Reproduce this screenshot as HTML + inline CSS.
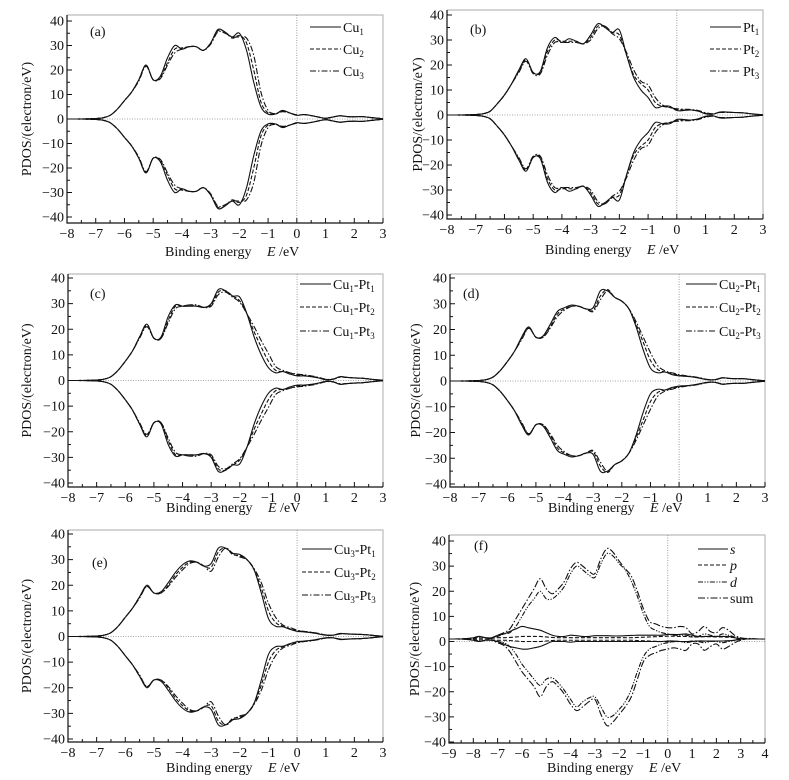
<!DOCTYPE html>
<html><head><meta charset="utf-8">
<style>
html,body{margin:0;padding:0;background:#fff;}
svg{display:block;font-family:"Liberation Serif",serif;}
</style></head>
<body>
<svg id="fig" width="789" height="780" viewBox="0 0 789 780" xmlns="http://www.w3.org/2000/svg"></svg>
<script>
// ---------- data ----------
const E_GRID = [-8,-7.75,-7.5,-7.25,-7,-6.75,-6.5,-6.25,-6,-5.75,-5.5,-5.25,-5,-4.75,-4.5,-4.25,-4,-3.75,-3.5,-3.25,-3,-2.75,-2.5,-2.25,-2,-1.75,-1.5,-1.25,-1,-0.75,-0.5,-0.25,0,0.25,0.5,0.75,1,1.25,1.5,1.75,2,2.25,2.5,2.75,3];
const A_CU1 = [0,0,0,0.1,0.2,0.5,1.5,4,7.5,11, 16,22,16,17.5,25,30,28.5,29.5,29.5,28,31,36.5,35.5,33.5,35,28,15,5,2,2,3.5,2.5,1.5,1.8,1.4,0.8,0.3,0.8,1.3,1,0.9,1,0.7,0.4,0.1];
const A_CU2 = [0,0,0,0.1,0.2,0.5,1.5,4,7.5,11, 16,22,16,17,23,28.5,29,29.5,29.5,28,31,36,35.5,33,34,31,20,7,2.5,2,3.3,2.5,1.6,1.8,1.4,0.8,0.3,0.8,1.3,1,0.9,1,0.7,0.4,0.1];
const A_CU3 = [0,0,0,0.1,0.2,0.5,1.5,4,7.5,11, 15.5,21.5,16,16.5,22,27,28.5,29.5,29.5,28,30.5,35.5,35,33.5,33.5,33,26,11,3.5,2.2,3,2.5,1.7,1.8,1.4,0.8,0.3,0.8,1.3,1,0.9,1,0.7,0.4,0.1];
const B_PT1 = [0,0,0,0.1,0.2,0.5,1.5,4.5,8,12.5, 18,22.5,17,17.5,27,31,29,30.5,29.5,28.5,32,36.5,35,33,34,24,15,10,7,3,3.5,3.5,1.8,1.8,2,1.5,0.5,0.3,1.2,1.2,1,0.9,0.6,0.3,0.1];
const B_PT2 = [0,0,0,0.1,0.2,0.5,1.5,4.5,8,12.5, 17.5,22,17,17,25.5,30,29.5,29.5,29.5,28.5,31,35.5,35.5,33,32,24,16,12.5,10,5,3.5,3,2.2,2,2,1.6,0.7,0.4,1.1,1.1,1,0.9,0.6,0.3,0.1];
const B_PT3 = [0,0,0,0.1,0.2,0.5,1.5,4.5,8,12.5, 17,21.5,16.5,16.5,24,29,29,29,29,28.5,30,34.5,35.5,32.5,30.5,25,18,13.5,12,7,4,3,2.5,2.3,2.2,1.8,0.9,0.5,1,1,1,0.9,0.6,0.3,0.1];
const C_S1 = [0,0,0,0.1,0.2,0.5,1.5,4,7.5,11.5, 17,22,16.5,17,25,29.5,29,29,29,28.5,30,35.5,35,33,32.5,26,17,10,5,3,3.5,2.5,1.8,1.8,1.5,1,0.3,0.5,1.5,1.2,1,0.9,0.6,0.3,0.1];
const C_S2 = [0,0,0,0.1,0.2,0.5,1.5,4,7.5,11.5, 17,21.5,16.5,16.5,23.5,29,29,29.5,29,28.5,29.5,34.5,35,33,31,26,19,13,7.5,4,3.5,3,2.2,2,1.6,1.1,0.4,0.5,1.4,1.2,1,0.9,0.6,0.3,0.1];
const C_S3 = [0,0,0,0.1,0.2,0.5,1.5,4,7.5,11.5, 16.5,21,16.5,16.5,22.5,28,29,29.5,29.5,28.5,29,33.5,34.5,32.5,30.5,26,21,15.5,10.5,5.5,4,3,2.5,2.2,1.8,1.2,0.5,0.5,1.3,1.2,1,0.9,0.6,0.3,0.1];
const D_S1 = [0,0,0,0.1,0.2,0.5,1.5,4,7.5,11.5, 17,21,17,17.5,22,27,28.5,29.5,29,28,28.5,35,35,32.5,31,28,21,12,5,3.2,3.5,2.5,2,1.8,1.5,1,0.5,0.5,1.3,1,0.9,0.9,0.6,0.3,0.1];
const D_S2 = [0,0,0,0.1,0.2,0.5,1.5,4,7.5,11.5, 16.5,20.5,17,17,21,26,28,29,29,28,27.5,33,35.5,32.5,31,28,22,15,8,4.5,3.5,3,2.2,1.9,1.6,1.1,0.5,0.5,1.2,1,0.9,0.9,0.6,0.3,0.1];
const D_S3 = [0,0,0,0.1,0.2,0.5,1.5,4,7.5,11.5, 16,20.5,17,17,20.5,25,27.5,29,29,28,27,31.5,35,32.5,31,28,23,17,11,6,4,3.2,2.5,2,1.7,1.2,0.6,0.5,1.1,1,0.9,0.9,0.6,0.3,0.1];
const E_S1 = [0,0,0,0.1,0.2,0.5,1.5,4,7.5,11, 15.5,20,17,17.5,21,25,28,29.5,29,27.5,28.5,34.5,34.5,32.5,32,30,26,17,7,4,3.8,2.8,2,1.8,1.5,1,0.5,0.5,1.2,1,0.9,0.8,0.6,0.3,0.1];
const E_S2 = [0,0,0,0.1,0.2,0.5,1.5,4,7.5,11, 15.5,19.5,17,17,20,24,27,29,29,27.5,27,33,34.5,32,31.5,30,26,19,10,5.5,4,3,2.3,1.9,1.6,1.1,0.6,0.5,1.1,1,0.9,0.8,0.6,0.3,0.1];
const E_S3 = [0,0,0,0.1,0.2,0.5,1.5,4,7.5,11, 15,19.5,17,17,19.5,23,26,28.5,29,27.5,25.5,31,34.5,32.5,31,30,26.5,21,13,7.5,4.5,3.5,2.5,2,1.7,1.2,0.6,0.5,1,1,0.9,0.8,0.6,0.3,0.1];

const F_GRID = [-9,-8.75,-8.5,-8.25,-8,-7.75,-7.5,-7.25,-7,-6.75,-6.5,-6.25,-6,-5.75,-5.5,-5.25,-5,-4.75,-4.5,-4.25,-4,-3.75,-3.5,-3.25,-3,-2.75,-2.5,-2.25,-2,-1.75,-1.5,-1.25,-1,-0.75,-0.5,-0.25,0,0.25,0.5,0.75,1,1.25,1.5,1.75,2,2.25,2.5,2.75,3,3.25,3.5,3.75,4];
const F_SUM_UP = [1,1,1,1.2,1.5,2,1.5,1.2,2.5,3.5, 5,9,13,17,21,25,21,19,21,24, 29,31.5,30,28,27,33,37,35.5,32,29, 26,20,13,8,7,6,5.5,5.5,6,5.5, 3,4,6,4,3.5,5.5,4.5,2.5,1.5,1.2, 1.2,1,1];
const F_D_UP = [1,1,1,1.1,1.3,1.8,1.4,1.2,2,3, 3.5,6,10,14,17,20,17,17,19,22, 27,30,28.5,26.5,25.5,31,35,34,31,28.5, 24,18,11,6,4.5,3.5,3,2.5,2.5,2.5, 2,2,3,2.5,2,3,2.5,1.8,1.2,1.1, 1,1,1];
const F_SUM_DN = [1,1,1,0.8,0.5,0,0.5,0.5,-0.5,-1.5, -4,-8,-12,-15,-18,-22,-18,-16,-18,-21, -25,-27.5,-26,-24,-23,-29,-33.5,-32,-29,-26, -22,-15,-8,-5.5,-4.5,-3.5,-3,-2.5,-3,-3.5, -1,-1,-3.5,-2,-1,-3,-2,-0.5,0.5,1, 1,1,1];
const F_D_DN = [1,1,1,0.9,0.7,0.3,0.6,0.6,0,-0.5, -2,-5,-9,-12,-15,-17.5,-15,-14.5,-16.5,-19.5, -23,-26,-24,-22.5,-22,-26,-30,-29.5,-27,-24, -19,-12,-6,-3,-2,-1,-0.5,0,0,-0.5, 0,0,-0.5,0,0,-0.5,0,0.5,1,1, 1,1,1];
const F_S_UP = [1,1,1,1.2,1.5,2,1.5,1.5,2.5,3, 4,5,6,5.5,5,4.5,3.5,2.5,2,2, 2.5,2.3,2,2,2.3,2.3,2.3,2.2,2.2,2.3, 2.4,2.5,2.5,2.5,2.5,2.5,2.8,2.8,2.8,3, 2.5,2,2,2,2,2,2,1.5,1,1, 1,1,1];
const F_S_DN = [1,1,1,0.8,0.5,0,0.5,0.5,0,-1, -2,-2.5,-3,-3,-2.5,-2,-1,0,0,0, -0.3,0,0,0,0,0,0,0,0,0, 0,0,0,0,0,0,0.2,0.2,0,0, 0,0.2,0.2,0.2,0.2,0.2,0.3,0.5,1,1, 1,1,1];
const F_P_UP = [1,1,1,1,1.2,1.3,1.3,1.3,1.5,1.5, 1.6,1.8,2,2,2,2,1.8,1.6,1.5,1.5, 1.5,1.5,1.5,1.5,1.5,1.5,1.5,1.5,1.5,1.5, 1.5,1.6,1.7,1.8,1.9,2,2.1,2.1,2,2, 1.8,1.8,1.9,1.9,1.8,1.8,1.7,1.5,1.2,1, 1,1,1];
const F_P_DN = [1,1,1,1,0.8,0.7,0.7,0.7,0.5,0.5, 0.4,0.2,0,0,0,0,0.2,0.4,0.5,0.5, 0.5,0.5,0.5,0.5,0.5,0.5,0.5,0.5,0.5,0.5, 0.5,0.4,0.3,0.2,0.1,0,-0.1,-0.1,0,0, 0.2,0.2,0.1,0.1,0.2,0.2,0.3,0.5,0.8,1, 1,1,1];

const Y_TICKS = [40,30,20,10,0,-10,-20,-30,-40];
const X_TICKS_A = [-8,-7,-6,-5,-4,-3,-2,-1,0,1,2,3];
const X_TICKS_F = [-9,-8,-7,-6,-5,-4,-3,-2,-1,0,1,2,3,4];

// ---------- drawing ----------
const NS = 'http://www.w3.org/2000/svg';
const svg = document.getElementById('fig');
function mk(tag, attrs, parent){ const e=document.createElementNS(NS,tag); for(const k in attrs) e.setAttribute(k,attrs[k]); (parent||svg).appendChild(e); return e; }

const DASH = {solid:'', dash:'4,2', dashdot:'6,2,1.5,2', dashdotdot:'5,1.5,1.2,1.5,1.2,1.5', longdd:'7,2,1.5,2'};

function smoothPath(pts){
  let d='M'+pts[0][0].toFixed(2)+','+pts[0][1].toFixed(2);
  for(let i=0;i<pts.length-1;i++){
    const p0=pts[i-1]||pts[i], p1=pts[i], p2=pts[i+1], p3=pts[i+2]||p2;
    const c1x=p1[0]+(p2[0]-p0[0])/6, c1y=p1[1]+(p2[1]-p0[1])/6;
    const c2x=p2[0]-(p3[0]-p1[0])/6, c2y=p2[1]-(p3[1]-p1[1])/6;
    d+='C'+c1x.toFixed(2)+','+c1y.toFixed(2)+' '+c2x.toFixed(2)+','+c2y.toFixed(2)+' '+p2[0].toFixed(2)+','+p2[1].toFixed(2);
  }
  return d;
}

function panel(cfg){
  const g = mk('g',{});
  
  
  const xs = v => cfg.L + (v-cfg.xmin)/(cfg.xmax-cfg.xmin)*(cfg.R-cfg.L);
  const ys = v => cfg.y40 + (40-v)/80*(cfg.ym40-cfg.y40);
  const top=cfg.top, bot=cfg.bot;
  // frame
  const fr = mk('path',{d:`M${cfg.L},${top}H${cfg.R}V${bot}`,fill:'none',stroke:'#bbb','stroke-width':1.2},g);
   
  // zero lines
  const z1 = mk('line',{x1:cfg.L,x2:cfg.R,y1:ys(0),y2:ys(0),stroke:'#888','stroke-width':0.8,'stroke-dasharray':'1,1.5'},g);
   
  const z2 = mk('line',{x1:xs(0),x2:xs(0),y1:top,y2:bot,stroke:'#888','stroke-width':0.8,'stroke-dasharray':'1,1.5'},g);
   
  // axes
  const ax = mk('path',{d:`M${cfg.L},${top}V${bot}H${cfg.R}`,fill:'none',stroke:'#111','stroke-width':1.2},g);
   
  // y ticks
  for(let v=-40; v<=40; v+=5){
    const t=mk('line',{x1:cfg.L,x2:cfg.L+(v%10===0?5:3),y1:ys(v),y2:ys(v),stroke:'#111','stroke-width':1},g);
     
  }
  Y_TICKS.forEach(v=>{
    const t=mk('text',{x:cfg.L-3,y:ys(v)+4.5,'text-anchor':'end','font-size':14,fill:'#111'},g);
    t.textContent = v<0 ? '\u2212'+(-v) : String(v);
     
  });
  // x ticks
  for(let v=cfg.xmin; v<=cfg.xmax+1e-9; v+=0.5){
    const maj = Math.abs(v-Math.round(v))<1e-6;
    const t=mk('line',{x1:xs(v),x2:xs(v),y1:bot,y2:bot-(maj?5:3),stroke:'#111','stroke-width':1},g);
     
  }
  cfg.xticks.forEach(v=>{
    const t=mk('text',{x:xs(v),y:bot+15,'text-anchor':'middle','font-size':14,fill:'#111'},g);
    t.textContent = v<0 ? '\u2212'+(-v) : String(v);
     
  });
  // titles
  const yt=mk('text',{x:0,y:0,'font-size':14,fill:'#111','text-anchor':'middle',transform:`translate(${cfg.ytx},${(top+bot)/2}) rotate(-90)`},g);
  yt.textContent='PDOS/(electron/eV)';
   
  const xt=mk('text',{x:cfg.L+98,y:cfg.xty,'font-size':14,fill:'#111'},g);
   
  xt.innerHTML='Binding energy<tspan x="'+(cfg.L+200)+'" font-style="italic">E</tspan><tspan> /eV</tspan>';
  const pl=mk('text',{x:cfg.lx,y:cfg.ly,'font-size':14,fill:'#111'},g);
  pl.textContent='('+cfg.id+')';
   
  // series
  cfg.series.forEach((s,i)=>{
    const parts = s.down ? [s.up, s.down] : [s.up, s.up.map(v=>-v)];
    parts.forEach((arr,k)=>{
      const pts = s.x.map((e,j)=>[xs(e), ys(arr[j])]);
      const p=mk('path',{d:smoothPath(pts),fill:'none',stroke:'#111','stroke-width':1.1,'stroke-dasharray':DASH[s.style]},g);
      
      
    });
    // legend
    const ly = cfg.legY[i];
    const ll=mk('line',{x1:cfg.legX,x2:cfg.legX+cfg.legW,y1:ly,y2:ly,stroke:'#111','stroke-width':1.1,'stroke-dasharray':DASH[s.style]},g);
     
    const lt=mk('text',{x:cfg.legX+cfg.legW+2,y:ly+5,'font-size':14,fill:'#111'},g);
    lt.innerHTML = s.label;
     
  });
}
const sub = (a,n)=>a+'<tspan font-size="9" dy="3">'+n+'</tspan>';
const sub2 = (a,n,b,m)=>a+'<tspan font-size="9" dy="3">'+n+'</tspan><tspan dy="-3">-'+b+'</tspan><tspan font-size="9" dy="3">'+m+'</tspan>';
const it = t=>'<tspan font-style="italic">'+t+'</tspan>';

panel({id:'a',L:67,R:383,xmin:-8,xmax:3,y40:21,ym40:217,top:15,bot:223,xticks:X_TICKS_A,ytx:31,xty:256,lx:90,ly:36,
  legX:310,legW:31,legY:[27,49,71],
  series:[{key:'cu1',x:E_GRID,up:A_CU1,style:'solid',label:sub('Cu',1)},
          {key:'cu2',x:E_GRID,up:A_CU2,style:'dash',label:sub('Cu',2)},
          {key:'cu3',x:E_GRID,up:A_CU3,style:'dashdot',label:sub('Cu',3)}]});
panel({id:'b',L:447,R:763,xmin:-8,xmax:3,y40:15,ym40:215,top:10,bot:219,xticks:X_TICKS_A,ytx:422,xty:254,lx:470,ly:34,
  legX:710,legW:31,legY:[27,49,71],
  series:[{key:'pt1',x:E_GRID,up:B_PT1,style:'solid',label:sub('Pt',1)},
          {key:'pt2',x:E_GRID,up:B_PT2,style:'dash',label:sub('Pt',2)},
          {key:'pt3',x:E_GRID,up:B_PT3,style:'dashdot',label:sub('Pt',3)}]});
panel({id:'c',L:68,R:383,xmin:-8,xmax:3,y40:278,ym40:483,top:274,bot:487,xticks:X_TICKS_A,ytx:31,xty:512,lx:90,ly:298,
  legX:300,legW:31,legY:[284,307,331],
  series:[{key:'cu1-pt1',x:E_GRID,up:C_S1,style:'solid',label:sub2('Cu',1,'Pt',1)},
          {key:'cu1-pt2',x:E_GRID,up:C_S2,style:'dash',label:sub2('Cu',1,'Pt',2)},
          {key:'cu1-pt3',x:E_GRID,up:C_S3,style:'dashdot',label:sub2('Cu',1,'Pt',3)}]});
panel({id:'d',L:450,R:765,xmin:-8,xmax:3,y40:278,ym40:484,top:274,bot:487,xticks:X_TICKS_A,ytx:420,xty:512,lx:463,ly:298,
  legX:686,legW:31,legY:[284,307,331],
  series:[{key:'cu2-pt1',x:E_GRID,up:D_S1,style:'solid',label:sub2('Cu',2,'Pt',1)},
          {key:'cu2-pt2',x:E_GRID,up:D_S2,style:'dash',label:sub2('Cu',2,'Pt',2)},
          {key:'cu2-pt3',x:E_GRID,up:D_S3,style:'dashdot',label:sub2('Cu',2,'Pt',3)}]});
panel({id:'e',L:68,R:383,xmin:-8,xmax:3,y40:534,ym40:739,top:530,bot:742,xticks:X_TICKS_A,ytx:31,xty:772,lx:92,ly:567,
  legX:302,legW:30,legY:[549,572,595],
  series:[{key:'cu3-pt1',x:E_GRID,up:E_S1,style:'solid',label:sub2('Cu',3,'Pt',1)},
          {key:'cu3-pt2',x:E_GRID,up:E_S2,style:'dash',label:sub2('Cu',3,'Pt',2)},
          {key:'cu3-pt3',x:E_GRID,up:E_S3,style:'dashdot',label:sub2('Cu',3,'Pt',3)}]});
panel({id:'f',L:449,R:765,xmin:-9,xmax:4,y40:541,ym40:742,top:535,bot:743,xticks:X_TICKS_F,ytx:419,xty:772,lx:474,ly:550,
  legX:698,legW:30,legY:[549,565,582,598],
  series:[{key:'s',x:F_GRID,up:F_S_UP,down:F_S_DN,style:'solid',label:it('s')},
          {key:'p',x:F_GRID,up:F_P_UP,down:F_P_DN,style:'dash',label:it('p')},
          {key:'d',x:F_GRID,up:F_D_UP,down:F_D_DN,style:'dashdotdot',label:it('d')},
          {key:'sum',x:F_GRID,up:F_SUM_UP,down:F_SUM_DN,style:'longdd',label:'sum'}]});
</script>
</body></html>
